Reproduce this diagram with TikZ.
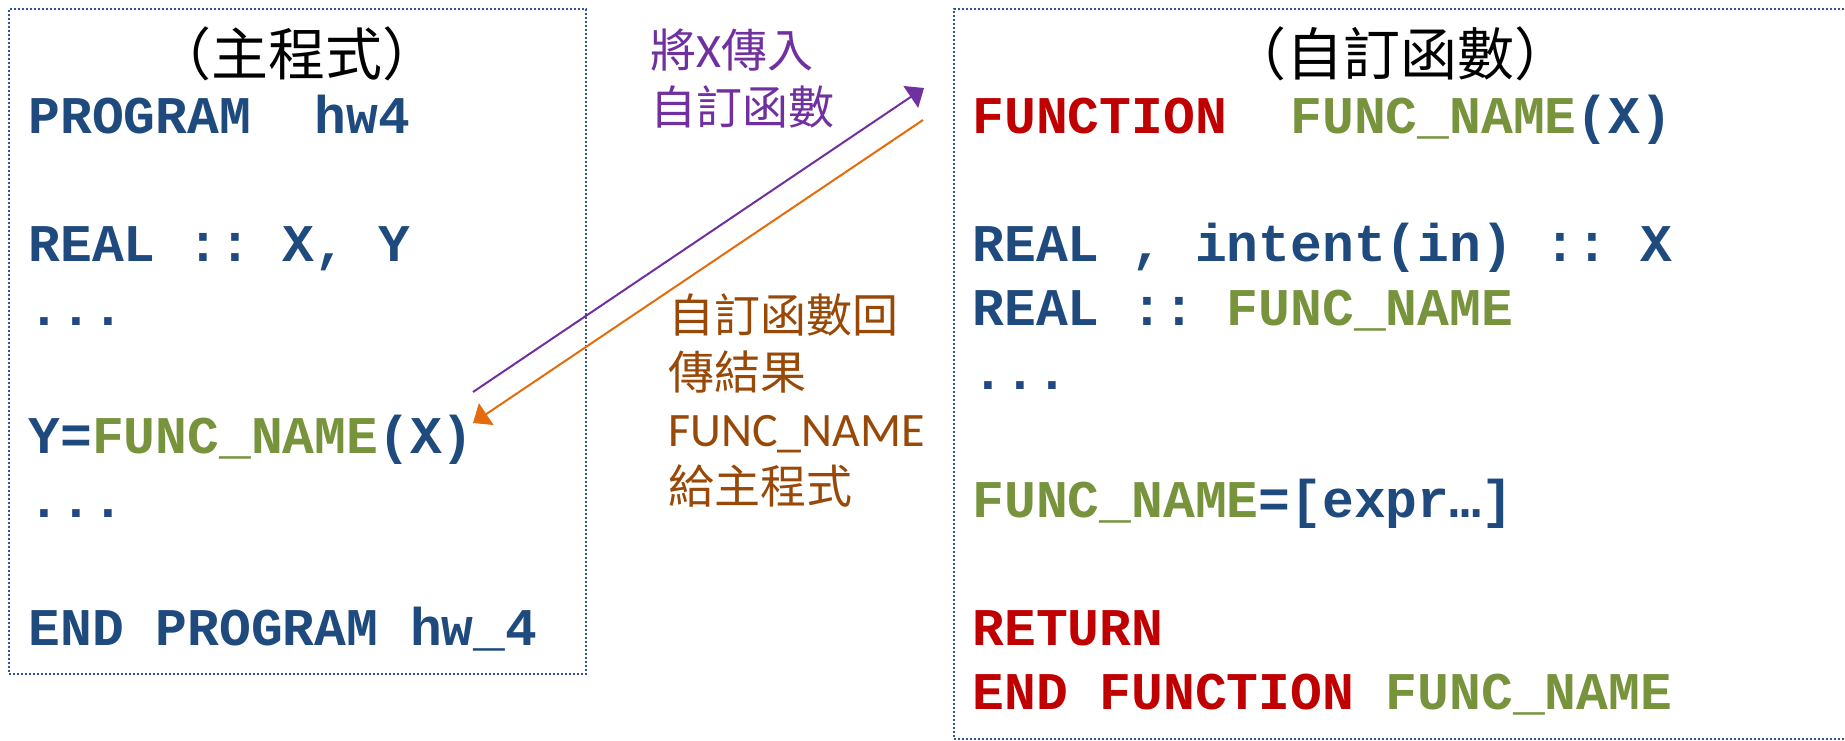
\documentclass[tikz,border=0pt]{standalone}
\usepackage{fontspec}
\newfontfamily\code{Liberation Mono}
\newfontfamily\cjk{Noto Sans CJK TC}
\newfontfamily\lat{Carlito}
\usetikzlibrary{arrows.meta}
\definecolor{cblue}{HTML}{1F4A7E}
\definecolor{cgreen}{HTML}{77933C}
\definecolor{cred}{HTML}{C00000}
\definecolor{boxblue}{HTML}{2F5597}
\definecolor{cpurple}{HTML}{7030A0}
\definecolor{corange}{HTML}{E46C0A}
\definecolor{cbrown}{HTML}{984807}
\begin{document}
\begin{tikzpicture}[x=0.5pt,y=-0.5pt,
  codeline/.style={anchor=base west, inner sep=0pt, font=\code\bfseries\fontsize{26.5pt}{32pt}\selectfont, text=cblue},
  titletext/.style={anchor=base, inner sep=0pt, font=\cjk\fontsize{28.5pt}{34pt}\selectfont, text=black},
  frame/.style={draw=boxblue, line width=1pt, dash pattern=on 1pt off 1pt, anchor=north west, inner sep=0pt},
  lblp/.style={anchor=base west, inner sep=0pt, font=\cjk\fontsize{23pt}{28.5pt}\selectfont, text=cpurple},
  lblo/.style={anchor=base west, inner sep=0pt, font=\cjk\fontsize{23pt}{28.5pt}\selectfont, text=cbrown},
  arrowp/.style={draw=cpurple, line width=1pt, -{Triangle[length=8pt,width=13pt]}},
  arrowo/.style={draw=corange, line width=1pt, -{Triangle[length=8pt,width=13pt]}},
]
\clip (0,0) rectangle (1845,740);
\fill[white] (0,0) rectangle (1845,740);

% frames
\node[frame, minimum width=288.5pt, minimum height=332.5pt] (mainbox) at (8,8) {};
\node[frame, minimum width=455pt, minimum height=365pt] (funcbox) at (953,8) {};

% titles
\node[titletext] (mtitle) at (297,75) {（主程式）};
\node[titletext] (ftitle) at (1400,75) {（自訂函數）};

% main program
\node[codeline] (m1) at (28,133) {PROGRAM~~hw4};
\node[codeline] (m2) at (28,261) {REAL~::~X,~Y};
\node[codeline] (m3) at (28,325) {...};
\node[codeline] (m4) at (28,453) {Y=\textcolor{cgreen}{FUNC\_NAME}(X)};
\node[codeline] (m5) at (28,517) {...};
\node[codeline] (m6) at (28,645) {END~PROGRAM~hw\_4};

% function
\node[codeline] (f1) at (972,133) {\textcolor{cred}{FUNCTION}~~\textcolor{cgreen}{FUNC\_NAME}(X)};
\node[codeline] (f2) at (972,261) {REAL~,~intent(in)~::~X};
\node[codeline] (f3) at (972,325) {REAL~::~\textcolor{cgreen}{FUNC\_NAME}};
\node[codeline] (f4) at (972,389) {...};
\node[codeline] (f5) at (972,517) {\textcolor{cgreen}{FUNC\_NAME}=[expr…]};
\node[codeline, text=cred] (f6) at (972,645) {RETURN};
\node[codeline, text=cred] (f7) at (972,709) {END~FUNCTION~\textcolor{cgreen}{FUNC\_NAME}};

% labels
\node[lblp] (lp1) at (650,67) {將{\lat\fontsize{24pt}{28.5pt}\selectfont X}傳入};
\node[lblp] (lp2) at (650,124) {自訂函數};
\node[lblo] (lo1) at (668,332) {自訂函數回};
\node[lblo] (lo2) at (668,389) {傳結果};
\node[lblo] (lo3) at (668,446) {\lat\fontsize{24pt}{28.5pt}\selectfont FUNC\_NAME};
\node[lblo] (lo4) at (668,503) {給主程式};

% arrows
\coordinate (pS) at (473,392);
\coordinate (pE) at (924,88);
\coordinate (oS) at (923,120);
\coordinate (oE) at (473,423);
\draw[arrowp] (pS) -- (pE);
\draw[arrowo] (oS) -- (oE);
\end{tikzpicture}
\end{document}
